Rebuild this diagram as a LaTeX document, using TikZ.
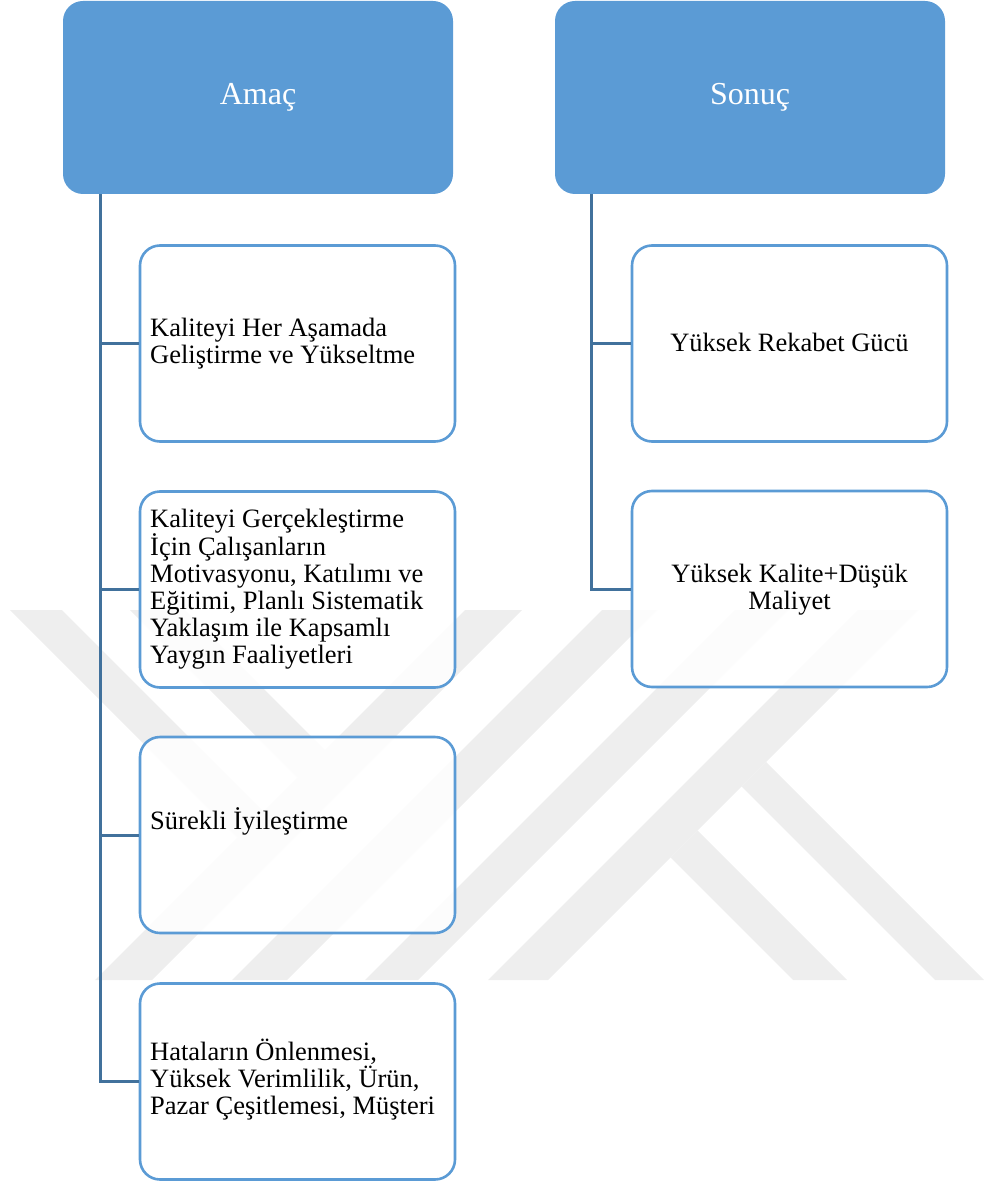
\documentclass[tikz,border=0pt]{standalone}
\usepackage{fontspec}
\setmainfont{Liberation Serif}
\usetikzlibrary{calc}

\definecolor{headblue}{RGB}{91,155,213}
\definecolor{linkblue}{RGB}{65,113,156}
\definecolor{wmgray}{RGB}{238,238,238}

\tikzset{
  header/.style={rectangle, rounded corners=20pt, fill=headblue, draw=none,
    minimum width=390pt, minimum height=193pt, inner sep=0pt, text=white,
    font=\fontsize{32pt}{36pt}\selectfont},
  itembox/.style={rectangle, rounded corners=20pt, draw=headblue, line width=2.6pt,
    fill=white, fill opacity=0.85, minimum width=315pt, minimum height=196pt, inner sep=0pt},
  itemtext/.style={inner sep=0pt, font=\fontsize{26.5pt}{27pt}\selectfont},
  link/.style={draw=linkblue, line width=3pt},
  wmband/.style={fill=wmgray, draw=none},
}

\begin{document}
\begin{tikzpicture}[x=1pt, y=-1pt]
  \useasboundingbox (0,0) rectangle (985,1182);

  % background emblem made of diagonal bands
  \fill[wmband] (10,610) -- (62,610) -- (263.5,811.5) -- (237.5,837.5) -- cycle;
  \fill[wmband] (130,610) -- (185,610) -- (325,750) -- (297.5,777.5) -- cycle;
  \fill[wmband] (465,610) -- (522,610) -- (152,980) -- (95,980) -- cycle;
  \fill[wmband] (602,610) -- (657,610) -- (287,980) -- (232,980) -- cycle;
  \fill[wmband] (735,610) -- (788,610) -- (418,980) -- (365,980) -- cycle;
  \fill[wmband] (858,610) -- (918,610) -- (548,980) -- (488,980) -- cycle;
  \fill[wmband] (741.5,786.5) -- (766,762) -- (984,980) -- (935,980) -- cycle;
  \fill[wmband] (670.5,857.5) -- (697.5,830.5) -- (847,980) -- (793,980) -- cycle;

  % column headers
  \node[header] (amac)  at (258,97.5) {Amaç};
  \node[header] (sonuc) at (750,97.5) {Sonuç};

  % left column boxes
  \node[itembox] (l1) at (297.5,343.5) {};
  \node[itembox] (l2) at (297.5,589.5) {};
  \node[itembox] (l3) at (297.5,835) {};
  \node[itembox] (l4) at (297.5,1081.5) {};

  % right column boxes
  \node[itembox] (r1) at (789.5,343.5) {};
  \node[itembox] (r2) at (789.5,589) {};

  % connectors
  \coordinate (lt) at ($(amac.south west)+(38,0)$);
  \coordinate (rt) at ($(sonuc.south west)+(37,0)$);
  \draw[link] (lt) |- (l4.west);
  \foreach \n in {l1,l2,l3} \draw[link] (lt |- \n.west) -- (\n.west);
  \draw[link] (rt) |- (r2.west);
  \draw[link] (rt |- r1.west) -- (r1.west);

  % box texts
  \node[itemtext, align=left, anchor=west] (l1t) at (150,344)
    {Kaliteyi Her Aşamada\\Geliştirme ve Yükseltme};
  \node[itemtext, align=left, anchor=west] (l2t) at (150,589)
    {Kaliteyi Gerçekleştirme\\İçin Çalışanların\\Motivasyonu, Katılımı ve\\Eğitimi, Planlı Sistematik\\Yaklaşım ile Kapsamlı\\Yaygın Faaliyetleri};
  \node[itemtext, anchor=base west] (l3t) at (150,829) {Sürekli İyileştirme};
  \node[itemtext, align=left, anchor=west] (l4t) at (150,1080)
    {Hataların Önlenmesi,\\Yüksek Verimlilik, Ürün,\\Pazar Çeşitlemesi, Müşteri};
  \node[itemtext, anchor=base] (r1t) at (789.5,351) {Yüksek Rekabet Gücü};
  \node[itemtext, align=center] (r2t) at (789.5,590) {Yüksek Kalite+Düşük\\Maliyet};
\end{tikzpicture}
\end{document}
